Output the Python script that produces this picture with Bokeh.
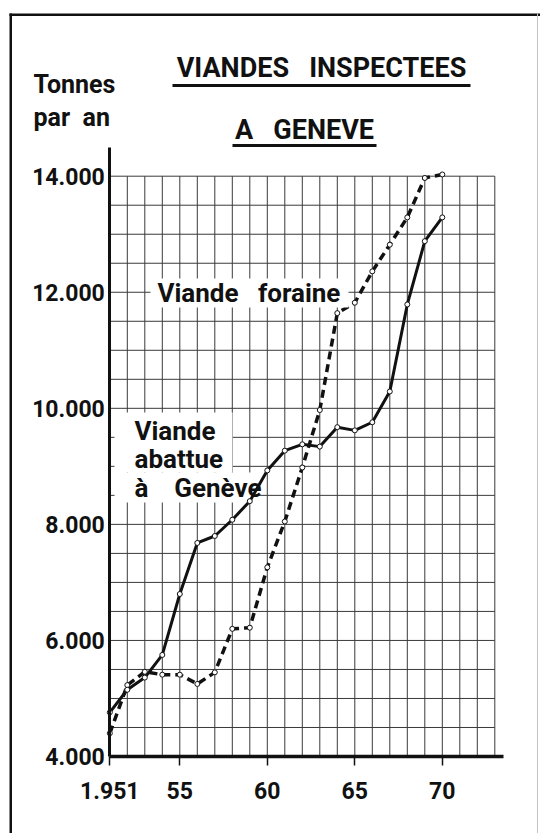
from bokeh.plotting import figure
from bokeh.models import FixedTicker, Label, BoxAnnotation, Range1d
from bokeh.embed import file_html
from bokeh.resources import INLINE

# ---- data ----
years = list(range(1951, 1971))
viande_abattue = [4760, 5150, 5360, 5750, 6800, 7680, 7800, 8080, 8400, 8930,
                  9270, 9380, 9340, 9675, 9620, 9760, 10290, 11790, 12880, 13290]
viande_foraine = [4400, 5230, 5460, 5410, 5410, 5250, 5450, 6200, 6220, 7260,
                  8050, 8980, 9970, 11640, 11820, 12360, 12820, 13290, 13970, 14030]
y_ticks = [4000, 6000, 8000, 10000, 12000, 14000]
y_tick_labels = ["4.000", "6.000", "8.000", "10.000", "12.000", "14.000"]
x_ticks = [1951, 1955, 1960, 1965, 1970]
x_tick_labels = ["1.951", "55", "60", "65", "70"]
grid_years = list(range(1952, 1974))
grid_levels = list(range(4500, 14001, 500))

FONT = "Roboto"
INK = "#111111"
NB = "\u00a0"
W, H = 540, 833

# pixel geometry of the plot area (used only to set the ranges)
AX_X, PX_YEAR = 109.3, 17.5       # x pixel of 1951, pixels per year
AX_Y, PX_T = 756.0, 0.05803       # y pixel of 4000 t, pixels per tonne

p = figure(width=W, height=H, output_backend="svg", toolbar_location=None,
           x_range=Range1d(1951 - AX_X / PX_YEAR, 1951 + (W - AX_X) / PX_YEAR),
           y_range=Range1d(4000 - (H - AX_Y) / PX_T, 4000 + AX_Y / PX_T),
           min_border=0, min_border_left=0, min_border_right=0,
           min_border_top=0, min_border_bottom=0)
p.outline_line_color = None
p.background_fill_color = "white"
p.border_fill_color = "white"
p.xgrid.grid_line_color = None
p.ygrid.grid_line_color = None

# grid drawn as segments so it stops at 1973 / 14000
gv = p.segment(x0=grid_years, y0=[4000] * len(grid_years), x1=grid_years,
               y1=[14000] * len(grid_years), line_color="#3a3a3a", line_width=1)
gh = p.segment(x0=[1951] * len(grid_levels), y0=grid_levels,
               x1=[1973] * len(grid_levels), y1=grid_levels,
               line_color="#3a3a3a", line_width=1)
gv.level = "image"
gh.level = "image"

# axes, pinned inside the full-canvas frame
ya = p.yaxis[0]
ya.fixed_location = 1951
ya.bounds = (4000, 14500)
ya.ticker = FixedTicker(ticks=y_ticks)
ya.major_label_overrides = dict(zip(y_ticks, y_tick_labels))
ya.major_tick_out = 0
ya.major_tick_in = 0
ya.minor_tick_out = 0
ya.minor_tick_in = 0
ya.axis_line_width = 3
ya.axis_line_color = INK
ya.major_label_standoff = 5
ya.major_label_text_font = FONT
ya.major_label_text_font_style = "bold"
ya.major_label_text_font_size = "23px"
ya.major_label_text_color = INK

xa = p.xaxis[0]
xa.fixed_location = 4000
xa.bounds = (1951, 1973.5)
xa.ticker = FixedTicker(ticks=x_ticks)
xa.major_label_overrides = dict(zip(x_ticks, x_tick_labels))
xa.major_tick_out = 9
xa.major_tick_in = 0
xa.major_tick_line_width = 1.5
xa.major_tick_line_color = INK
xa.minor_tick_out = 0
xa.minor_tick_in = 0
xa.axis_line_width = 3.5
xa.axis_line_color = INK
xa.major_label_standoff = 16
xa.major_label_text_font = FONT
xa.major_label_text_font_style = "bold"
xa.major_label_text_font_size = "23px"
xa.major_label_text_color = INK

# series
p.line(years, viande_foraine, line_color=INK, line_width=3.5, line_dash="8 5")
p.line(years, viande_abattue, line_color=INK, line_width=3)
p.scatter(years, viande_foraine, marker="circle", size=5, fill_color="white",
          line_color=INK, line_width=1)
p.scatter(years, viande_abattue, marker="circle", size=5, fill_color="white",
          line_color=INK, line_width=1)


# helpers: page pixel -> screen units (frame == whole canvas, origin bottom-left)
def sx(X):
    return X


def sy(Y):
    return H - Y


def txt(text, X, Y, size, align="left", level="annotation", **kw):
    lab = Label(x=sx(X), y=sy(Y), x_units="screen", y_units="screen", text=text,
                text_font=FONT, text_font_style="bold", text_font_size=size,
                text_color=INK, text_align=align, text_baseline="middle",
                level=level, **kw)
    p.add_layout(lab)
    return lab


def box(X0, X1, Y0, Y1, color=INK, level="annotation"):
    p.add_layout(BoxAnnotation(left=sx(X0), right=sx(X1), top=sy(Y0), bottom=sy(Y1),
                               left_units="screen", right_units="screen",
                               top_units="screen", bottom_units="screen",
                               fill_color=color, fill_alpha=1, line_color=None,
                               level=level))


# outer frame
box(9, 11.5, 13, 840)
box(9, 540, 13, 15.5)
box(536.5, 537.5, 13, 840, color="#c4c4c4")

# titles
txt("VIANDES" + NB * 3 + "INSPECTEES", 321, 67, "27px", align="center")
box(172, 470, 83.5, 86.5)
txt("A" + NB * 3 + "GENEVE", 304, 129, "27px", align="center")
box(232, 376, 143.5, 146.5)
txt("Tonnes", 33, 84, "25px")
txt("par" + NB * 2 + "an", 33, 117, "25px")

# series labels
box(150, 348, 278, 307, color="white")
txt("Viande" + NB * 3 + "foraine", 157, 292, "26px")

box(114, 232, 412, 472, color="white", level="underlay")
box(114, 258, 472, 502, color="white", level="underlay")
txt("Viande", 134, 430, "26px", level="underlay")
txt("abattue", 134, 458, "26px", level="underlay")
txt("à" + NB * 4 + "Genève", 134, 487, "26px", level="underlay")

open("out.html", "w").write(file_html(p, INLINE))
